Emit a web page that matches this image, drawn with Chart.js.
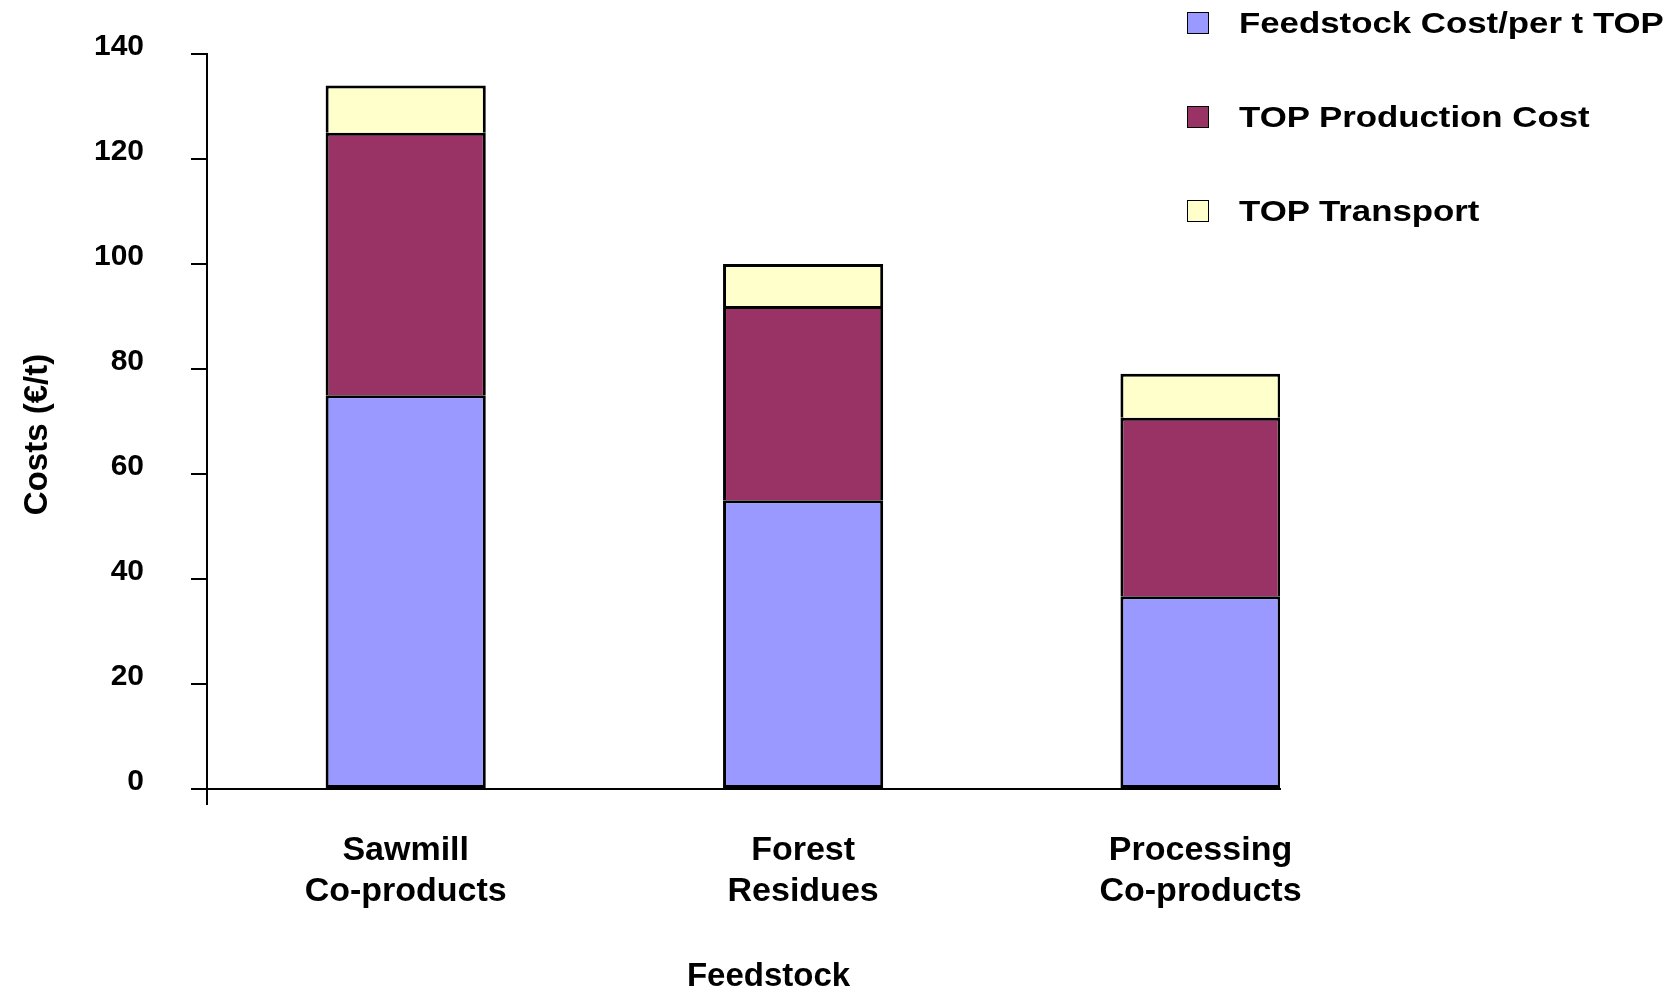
<!DOCTYPE html>
<html>
<head>
<meta charset="utf-8">
<title>Costs by feedstock</title>
<script src="https://cdn.jsdelivr.net/npm/chart.js@4"></script>
<style>
  body { margin: 0; background: #fff; }
  #wrap { position: relative; width: 1675px; height: 1001px; }
  #legend { position: absolute; left: 1187px; top: 0; }
  .item { position: absolute; left: 0; height: 30px; display: flex; align-items: center; white-space: nowrap; }
  .box { width: 20px; height: 20px; border: 1.5px solid #000; flex: none; }
  .label { margin-left: 30px; font: bold 30px "Liberation Sans", Arial, sans-serif; color: #000;
           transform: scaleX(1.16); transform-origin: left center; }
</style>
</head>
<body>
<div id="wrap">
  <canvas id="chart" width="1675" height="1001"></canvas>
  <div id="legend"></div>
</div>
<script>
// values (€/t)
const categories = [['Sawmill', 'Co-products'], ['Forest', 'Residues'], ['Processing', 'Co-products']];
const feedstockCost = [75, 55, 36.7];
const productionCost = [50, 37, 34];
const transportCost = [9, 8, 8.4];
const seriesNames = ['Feedstock Cost/per t TOP', 'TOP Production Cost', 'TOP Transport'];
const seriesColors = ['#9999FF', '#993366', '#FFFFCC'];
const xTitle = 'Feedstock';
const yTitle = 'Costs (€/t)';

const FONT = '"Liberation Sans", Arial, sans-serif';
const xMin = -0.5;   // left edge of the first category slot
const xMax = 2.2;    // axis stops at the right side of the last bar

// axis titles sit a little off-centre in the original, so draw them by hand
const axisTitles = {
  id: 'axisTitles',
  afterDraw(c) {
    const { ctx, chartArea: a } = c;
    ctx.save();
    ctx.font = 'bold 33px ' + FONT;
    ctx.fillStyle = '#000';
    ctx.textAlign = 'center';
    ctx.textBaseline = 'middle';
    ctx.fillText(xTitle, (a.left + a.right) / 2 + 25, c.height - 24);
    ctx.translate(38, (a.top + a.bottom) / 2 + 13);
    ctx.rotate(-Math.PI / 2);
    ctx.fillText(yTitle, 0, 0);
    ctx.restore();
  }
};

const ctx = document.getElementById('chart').getContext('2d');
const chart = new Chart(ctx, {
  type: 'bar',
  data: {
    labels: categories.map((c, i) => i),
    datasets: [
      { label: seriesNames[0], data: feedstockCost, backgroundColor: seriesColors[0], borderSkipped: false },
      { label: seriesNames[1], data: productionCost, backgroundColor: seriesColors[1], borderSkipped: 'bottom' },
      { label: seriesNames[2], data: transportCost, backgroundColor: seriesColors[2], borderSkipped: 'bottom' }
    ]
  },
  plugins: [axisTitles],
  options: {
    responsive: false,
    animation: false,
    layout: { padding: { top: 54, right: 395, left: 0, bottom: 0 } },
    datasets: {
      // the extra tick at xMin halves the sample spacing, hence the doubled percentage
      bar: { borderColor: '#000', borderWidth: 3, categoryPercentage: 1, barPercentage: 0.806 }
    },
    plugins: { legend: { display: false }, tooltip: { enabled: false } },
    scales: {
      x: {
        type: 'linear',
        stacked: true,
        min: xMin,
        max: xMax,
        offset: false,
        afterFit: s => { s.height = 212; s.paddingLeft = 0; s.paddingRight = 0; },
        afterBuildTicks: s => { s.ticks = [xMin].concat(categories.map((c, i) => i)).map(v => ({ value: v })); },
        grid: {
          offset: false,
          drawOnChartArea: false,
          tickLength: 16,
          lineWidth: 2,
          color: c => (c.tick && c.tick.value === xMin ? '#000' : 'rgba(0,0,0,0)')
        },
        border: { color: '#000', width: 2 },
        ticks: {
          autoSkip: false,
          maxRotation: 0,
          padding: 26,
          color: '#000',
          font: { family: FONT, size: 34, weight: 'bold', lineHeight: 1.18 },
          callback: v => categories[v] || ''
        }
      },
      y: {
        stacked: true,
        min: 0,
        max: 140,
        afterFit: s => { s.width = 207; s.paddingTop = 0; s.paddingBottom = 0; },
        grid: { drawOnChartArea: false, color: '#000', lineWidth: 2, tickLength: 16 },
        border: { color: '#000', width: 2 },
        ticks: {
          stepSize: 20,
          padding: 47,
          labelOffset: -7,
          color: '#000',
          font: { family: FONT, size: 30, weight: 'bold' }
        }
      }
    }
  }
});

// legend as html, stacked in the top-right corner
const legend = document.getElementById('legend');
chart.data.datasets.forEach((ds, i) => {
  const row = document.createElement('div');
  row.className = 'item';
  row.style.top = (8 + i * 94) + 'px';
  const box = document.createElement('div');
  box.className = 'box';
  box.style.background = ds.backgroundColor;
  const txt = document.createElement('span');
  txt.className = 'label';
  txt.textContent = ds.label;
  row.appendChild(box);
  row.appendChild(txt);
  legend.appendChild(row);
});
</script>
</body>
</html>
